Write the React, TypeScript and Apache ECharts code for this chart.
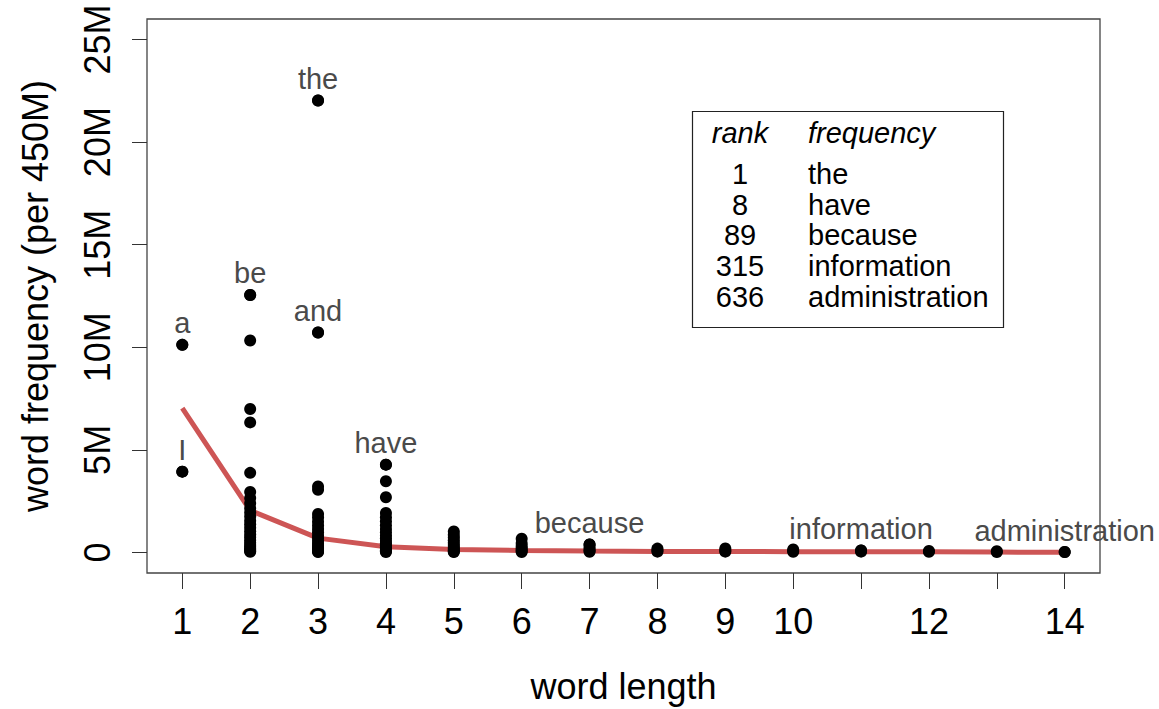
import React, { useEffect, useRef } from "react";
import * as echarts from "echarts";

// word lengths (x) and word frequencies in millions (per 450M words)
const wordLengths = [1, 2, 3, 4, 5, 6, 7, 8, 9, 10, 11, 12, 13, 14];
const len1 = [10.12, 3.94];
const len2 = [12.55, 10.33, 6.99, 6.34, 3.88, 2.95, 2.66, 2.4, 2.15, 1.95, 1.75, 1.55, 1.38, 1.2, 1.03, 0.88, 0.74, 0.6, 0.48, 0.37, 0.28, 0.2, 0.13, 0.07, 0.03];
const len3 = [22.03, 10.72, 3.22, 3.06, 1.88, 1.7, 1.5, 1.32, 1.15, 0.98, 0.83, 0.7, 0.57, 0.45, 0.35, 0.26, 0.18, 0.11, 0.05, 0.02];
const len4 = [4.28, 3.47, 2.69, 1.93, 1.72, 1.52, 1.33, 1.15, 0.98, 0.83, 0.69, 0.56, 0.45, 0.35, 0.26, 0.18, 0.11, 0.06, 0.02];
const len5 = [1.02, 0.87, 0.73, 0.6, 0.48, 0.37, 0.27, 0.18, 0.11, 0.05, 0.02];
const len6 = [0.67, 0.45, 0.32, 0.22, 0.14, 0.07, 0.02];
const len7 = [0.39, 0.26, 0.16, 0.08, 0.03];
const len8 = [0.19, 0.1, 0.04];
const len9 = [0.2, 0.1, 0.04];
const len10 = [0.15, 0.08, 0.03];
const len11 = [0.1, 0.04];
const len12 = [0.07, 0.03];
const len13 = [0.06, 0.02];
const len14 = [0.02];
const freqByLength = [len1, len2, len3, len4, len5, len6, len7, len8, len9, len10, len11, len12, len13, len14];

// mean frequency per word length (red line)
const meanFreq = [7.03, 2.05, 0.7, 0.28, 0.15, 0.1, 0.07, 0.05, 0.05, 0.04, 0.03, 0.03, 0.02, 0.01];

// labelled words
const labelWords = ["a", "I", "be", "the", "and", "have", "because", "information", "administration"];
const labelLengths = [1, 1, 2, 3, 3, 4, 7, 11, 14];
const labelFreqs = [10.12, 3.94, 12.55, 22.03, 10.72, 4.28, 0.39, 0.1, 0.02];

// axis ticks
const xTicks = [1, 2, 3, 4, 5, 6, 7, 8, 9, 10, 11, 12, 13, 14];
const xTickLabels = [1, 2, 3, 4, 5, 6, 7, 8, 9, 10, 12, 14];
const yTicks = [0, 5, 10, 15, 20, 25];

// legend table
const legendRanks = ["1", "8", "89", "315", "636"];
const legendWords = ["the", "have", "because", "information", "administration"];

const FONT = "Liberation Sans, Arial, sans-serif";

export default function App() {
  const ref = useRef<HTMLDivElement>(null);
  useEffect(() => {
    if (!ref.current) return;
    const chart = echarts.init(ref.current, undefined, { renderer: "svg" });

    const points: number[][] = [];
    freqByLength.forEach((arr, i) => {
      arr.forEach((v) => points.push([wordLengths[i], v]));
    });
    const meanData = wordLengths.map((x, i) => [x, meanFreq[i]]);
    const labelData = labelWords.map((w, i) => [labelLengths[i], labelFreqs[i], w]);

    const legendGraphics: any[] = [
      {
        type: "rect",
        shape: { x: 692.5, y: 111.5, width: 311, height: 216 },
        style: { fill: "#fff", stroke: "#222", lineWidth: 1.2 },
        z: 100,
      },
      {
        type: "text",
        x: 740,
        y: 133,
        style: { text: "rank", font: `italic 29px ${FONT}`, textAlign: "center", textVerticalAlign: "middle", fill: "#000" },
        z: 101,
      },
      {
        type: "text",
        x: 808,
        y: 133,
        style: { text: "frequency", font: `italic 29px ${FONT}`, textAlign: "left", textVerticalAlign: "middle", fill: "#000" },
        z: 101,
      },
    ];
    legendRanks.forEach((r, i) => {
      const y = 174 + i * 30.7;
      legendGraphics.push({
        type: "text",
        x: 740,
        y,
        style: { text: r, font: `29px ${FONT}`, textAlign: "center", textVerticalAlign: "middle", fill: "#000" },
        z: 101,
      });
      legendGraphics.push({
        type: "text",
        x: 808,
        y,
        style: { text: legendWords[i], font: `29px ${FONT}`, textAlign: "left", textVerticalAlign: "middle", fill: "#000" },
        z: 101,
      });
    });

    chart.setOption({
      animation: false,
      backgroundColor: "#fff",
      textStyle: { fontFamily: FONT },
      grid: {
        left: 147,
        right: 59,
        top: 19,
        bottom: 136,
        show: true,
        borderColor: "#444",
        borderWidth: 1.3,
        backgroundColor: "transparent",
      },
      xAxis: {
        type: "value",
        min: 0.48,
        max: 14.52,
        name: "word length",
        nameLocation: "middle",
        nameGap: 95,
        nameTextStyle: { fontSize: 36, lineHeight: 36, color: "#000", fontFamily: FONT },
        axisLine: { show: false, onZero: false },
        splitLine: { show: false },
        axisTick: { show: true, length: 16, lineStyle: { color: "#333", width: 1 }, customValues: xTicks },
        axisLabel: { fontSize: 36, lineHeight: 36, color: "#000", margin: 30, customValues: xTickLabels, fontFamily: FONT },
      },
      yAxis: {
        type: "value",
        min: -1,
        max: 26,
        name: "word frequency (per 450M)",
        nameLocation: "middle",
        nameRotate: 90,
        nameGap: 94,
        nameTextStyle: { fontSize: 36, lineHeight: 36, color: "#000", fontFamily: FONT },
        axisLine: { show: false, onZero: false },
        splitLine: { show: false },
        axisTick: { show: true, length: 15, lineStyle: { color: "#333", width: 1 }, customValues: yTicks },
        axisLabel: {
          fontSize: 36,
          lineHeight: 36,
          color: "#000",
          rotate: 90,
          margin: 32,
          customValues: yTicks,
          fontFamily: FONT,
          formatter: (v: number) => (v === 0 ? "0" : `${v}M`),
        },
      },
      series: [
        {
          type: "line",
          data: meanData,
          symbol: "none",
          lineStyle: { color: "#cd5555", width: 5 },
          z: 1,
        },
        {
          type: "scatter",
          data: points,
          symbol: "circle",
          symbolSize: 12,
          itemStyle: { color: "#000", opacity: 1 },
          z: 2,
        },
        {
          type: "scatter",
          data: labelData,
          symbol: "circle",
          symbolSize: 12,
          itemStyle: { color: "#000", opacity: 1 },
          z: 3,
          label: {
            show: true,
            position: "top",
            distance: 1,
            fontSize: 29,
            lineHeight: 29,
            color: "#4a4a4a",
            fontFamily: FONT,
            formatter: (p: any) => p.value[2],
          },
        },
      ],
      graphic: legendGraphics,
    });

    return () => chart.dispose();
  }, []);

  return (
    <div
      ref={ref}
      style={{ position: "fixed", left: 0, top: 0, width: 1159, height: 709, background: "#fff" }}
    />
  );
}
